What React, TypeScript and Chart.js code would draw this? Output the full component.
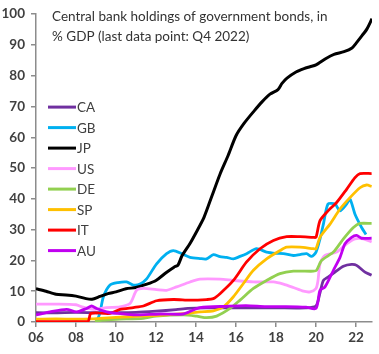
import React, { useEffect, useRef } from 'react';
import { Chart, registerables } from 'chart.js';

Chart.register(...registerables);

const TITLE_LINES = ['Central bank holdings of government bonds, in', '% GDP (last data point: Q4 2022)'];
const SERIES_NAMES = ['CA', 'GB', 'JP', 'US', 'DE', 'SP', 'IT', 'AU'];
const SERIES_COLORS = ['#7030A0', '#00B0F0', '#000000', '#FF99FF', '#92D050', '#FFC000', '#FF0000', '#C000F0'];
const X_MIN = 2006;
const X_MAX = 2022.8;
const Y_MAX = 100;

// [year, % of GDP]
const CA: [number, number][] = [
  [2006, 3.0], [2007, 3.0], [2008, 3.1], [2009, 3.0], [2010, 3.0], [2011, 3.1], [2012, 3.5],
  [2013, 4.0], [2013.6, 4.4], [2014.5, 4.6], [2016, 4.6], [2018, 4.6], [2019.5, 4.6], [2020, 5.2],
  [2020.2, 9.5], [2020.37, 13.5], [2020.6, 14.6], [2020.95, 16.2], [2021.37, 18.1], [2021.78, 18.7],
  [2022.03, 18.4], [2022.45, 16.2], [2022.78, 15.2],
];
const GB: [number, number][] = [
  [2009.05, 0.3], [2009.2, 3], [2009.37, 8.2], [2009.7, 12], [2010.1, 12.8], [2010.53, 13], [2010.87, 12],
  [2011.2, 12.3], [2011.53, 14], [2012.03, 18.9], [2012.53, 22.2], [2012.87, 23.2], [2013.28, 22.2],
  [2013.7, 21], [2014.2, 20.6], [2014.53, 20.5], [2014.87, 21.9], [2015.2, 21.2], [2015.53, 21], [2015.87, 20.5],
  [2016.2, 21.3], [2016.53, 22.2], [2017.03, 23.8], [2017.53, 22.7], [2018, 22.3], [2018.37, 22.2],
  [2018.87, 21.6], [2019.2, 21.9], [2019.53, 22.2], [2019.78, 21.3], [2020, 22.7], [2020.2, 27],
  [2020.37, 31.8], [2020.6, 38.3], [2020.95, 38.3], [2021.2, 36.1], [2021.53, 38.3], [2021.7, 39.9],
  [2021.95, 35], [2022.28, 30.7], [2022.5, 28.4],
];
const JP: [number, number][] = [
  [2006, 10.8], [2006.5, 10], [2007, 9], [2007.5, 8.8], [2008, 8.4], [2008.5, 7.6], [2008.8, 7.4],
  [2009.2, 8.3], [2009.6, 9.2], [2010, 9.8], [2010.5, 10.8], [2011, 11.2], [2011.5, 12.2], [2012, 13.5],
  [2012.5, 16], [2012.9, 17.8], [2013.1, 18.5], [2013.3, 21.5], [2013.7, 25.5], [2014, 29], [2014.4, 34],
  [2014.8, 41], [2015.2, 48], [2015.6, 54], [2016, 60.5], [2016.4, 64.5], [2016.9, 68.5], [2017.3, 71.5],
  [2017.7, 74], [2018.1, 75.5], [2018.3, 77.5], [2018.55, 79.2], [2019, 81.2], [2019.4, 82.3],
  [2019.7, 82.9], [2020, 83.5], [2020.5, 85.6], [2020.9, 86.9], [2021.4, 87.8], [2021.8, 89],
  [2022, 90.5], [2022.3, 93], [2022.55, 95.2], [2022.8, 98.5],
];
const US: [number, number][] = [
  [2006, 5.8], [2007, 5.8], [2008, 5.6], [2008.3, 4.9], [2008.87, 4.1], [2009.53, 4.7], [2010.2, 4.9],
  [2010.7, 6], [2011.03, 10.3], [2011.37, 10.9], [2012.03, 10.5], [2012.53, 10.3], [2013.03, 11.4],
  [2013.7, 13], [2014.2, 13.9], [2015.2, 13.9], [2015.87, 13.5], [2016.87, 13], [2017.87, 13],
  [2018.37, 12.3], [2018.87, 11.2], [2019.37, 10], [2019.7, 9.8], [2020, 10.9], [2020.1, 13.5],
  [2020.2, 18.9], [2020.45, 21.6], [2021.03, 22.7], [2021.53, 25.4], [2021.95, 27], [2022.37, 27],
  [2022.78, 26],
];
const DE: [number, number][] = [
  [2008.95, 0.1], [2009.3, 0.6], [2010, 0.9], [2011.37, 1.2], [2012, 1.9], [2013.37, 2.3], [2014.03, 1.9],
  [2014.53, 1.4], [2015.03, 1.9], [2015.7, 4.4], [2016.2, 7.1], [2016.87, 10.9], [2017.53, 13.5],
  [2018.2, 15.7], [2018.87, 16.5], [2019.87, 16.5], [2020.03, 16.8], [2020.28, 20], [2020.87, 22.7],
  [2021.37, 27], [2021.87, 30.7], [2022.2, 32], [2022.78, 32],
];
const SP: [number, number][] = [
  [2006, 0.9], [2007, 1.0], [2008, 0.9], [2008.8, 1.0], [2009.2, 1.2], [2010, 1.5], [2011.2, 1.9],
  [2012.5, 2.3], [2013.53, 2.8], [2014.2, 3.3], [2014.87, 3.6], [2015.37, 4.9], [2015.87, 8.2],
  [2016.37, 12.5], [2016.87, 16.8], [2017.53, 20.5], [2018.2, 23.2], [2018.53, 24.3], [2019.2, 24.3],
  [2019.87, 23.8], [2020, 23.8], [2020.2, 27.5], [2020.7, 31.8], [2021.2, 36.7], [2021.7, 40.4],
  [2022.2, 43.6], [2022.53, 44.5], [2022.78, 44],
];
const IT: [number, number][] = [
  [2006, 0.1], [2007, 0.1], [2008, 0.1], [2008.6, 0.2], [2008.75, 2.8], [2009.7, 2.8], [2010.2, 4.1],
  [2010.87, 4.7], [2011.37, 5.2], [2012.03, 6.9], [2012.87, 7.3], [2013.7, 7.1], [2014.53, 7.3],
  [2014.87, 7.6], [2015.2, 9.2], [2015.87, 13.5], [2016.53, 19.5], [2017.2, 23.8], [2017.87, 26.5],
  [2018.53, 27.7], [2019.2, 27.7], [2019.87, 27.5], [2020, 27.5], [2020.2, 32.9], [2020.6, 36.1],
  [2021.03, 38.8], [2021.53, 43.1], [2021.95, 46.9], [2022.2, 48.2], [2022.78, 48.2],
];
const AU: [number, number][] = [
  [2006, 2.3], [2006.7, 3.3], [2007.53, 4.1], [2008.03, 3.3], [2008.53, 4.4], [2008.78, 5.2],
  [2009.03, 4.4], [2009.53, 3.3], [2010.03, 2.8], [2010.87, 2.3], [2012.2, 2.6], [2013.37, 2.6],
  [2013.87, 3.9], [2014.2, 4.7], [2015.5, 5.1], [2016.5, 5.3], [2017.5, 5.0], [2018.5, 5.0], [2019.5, 4.8],
  [2020, 4.4], [2020.2, 10.3], [2020.45, 11.4], [2020.87, 16.8], [2021.2, 21], [2021.45, 25.4],
  [2021.78, 27.5], [2022.03, 28.1], [2022.28, 27.2], [2022.78, 27.2],
];

const SERIES_DATA = [CA, GB, JP, US, DE, SP, IT, AU];

const FONT_FAMILY = 'Lato, "Open Sans", sans-serif';
const TEXT_COLOR = '#404040';
const AXIS_COLOR = '#8c8c8c';

const overlayPlugin = {
  id: 'overlayText',
  afterDraw(chart: any) {
    const { ctx, chartArea } = chart;
    ctx.save();
    ctx.textBaseline = 'middle';
    ctx.textAlign = 'left';
    ctx.font = `13.5px ${FONT_FAMILY}`;
    ctx.fillStyle = '#333333';
    TITLE_LINES.forEach((t, i) => ctx.fillText(t, chartArea.left + 16, chartArea.top + 3 + i * 20));

    ctx.font = `13.5px ${FONT_FAMILY}`;
    SERIES_NAMES.forEach((name, i) => {
      const y = chartArea.top + 93 + i * 20.5;
      const x0 = chartArea.left + 12;
      ctx.strokeStyle = SERIES_COLORS[i];
      ctx.lineWidth = 3;
      ctx.beginPath();
      ctx.moveTo(x0, y);
      ctx.lineTo(x0 + 28, y);
      ctx.stroke();
      ctx.fillStyle = TEXT_COLOR;
      ctx.fillText(name, x0 + 29, y + 1);
    });
    ctx.restore();
  },
};

export default function App() {
  const canvasRef = useRef<HTMLCanvasElement | null>(null);

  useEffect(() => {
    if (!canvasRef.current) return;
    const chart = new Chart(canvasRef.current, {
      type: 'line',
      data: {
        datasets: SERIES_NAMES.map((name, i) => ({
          label: name,
          data: SERIES_DATA[i].map(([x, y]) => ({ x, y })),
          borderColor: SERIES_COLORS[i],
          backgroundColor: SERIES_COLORS[i],
          borderWidth: i === 2 ? 3 : 2.8,
          pointRadius: 0,
          tension: 0.25,
          fill: false,
          order: SERIES_NAMES.length - i,
        })),
      },
      options: {
        animation: false,
        responsive: true,
        maintainAspectRatio: false,
        layout: { padding: { left: 0, right: 7, top: 12, bottom: 0 } },
        plugins: {
          legend: { display: false },
          tooltip: { enabled: false },
          title: { display: false },
        },
        scales: {
          x: {
            type: 'linear',
            min: X_MIN,
            max: X_MAX,
            afterFit: (scale: any) => { scale.height = 32; },
            afterBuildTicks: (scale: any) => {
              const ticks = [];
              for (let v = 2006; v <= 2022; v += 2) ticks.push({ value: v });
              scale.ticks = ticks;
            },
            ticks: {
              callback: (v: any) => String(Math.round(Number(v)) % 100).padStart(2, '0'),
              color: TEXT_COLOR,
              font: { family: FONT_FAMILY, size: 13.5, weight: 'bold' },
              padding: 3,
              maxRotation: 0,
              autoSkip: false,
            },
            grid: { drawOnChartArea: false, drawTicks: true, tickLength: 5, color: AXIS_COLOR, lineWidth: 1.5 },
            border: { display: true, color: AXIS_COLOR, width: 1.5 },
          },
          y: {
            min: 0,
            max: Y_MAX,
            afterFit: (scale: any) => { scale.width = 36; },
            ticks: {
              stepSize: 10,
              color: TEXT_COLOR,
              font: { family: FONT_FAMILY, size: 13.5, weight: 'bold' },
              padding: 6,
            },
            grid: { drawOnChartArea: false, drawTicks: true, tickLength: 5, color: AXIS_COLOR, lineWidth: 1.5 },
            border: { display: true, color: AXIS_COLOR, width: 1.5 },
          },
        },
      },
      plugins: [overlayPlugin],
    });
    return () => chart.destroy();
  }, []);

  return (
    <div style={{ position: 'fixed', left: 0, top: 0, width: 379, height: 354, background: '#fff' }}>
      <canvas ref={canvasRef} />
    </div>
  );
}
